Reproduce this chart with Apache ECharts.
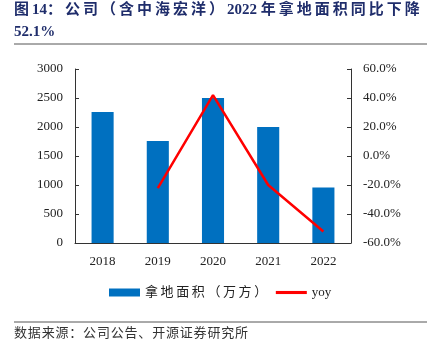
<!DOCTYPE html>
<html><head><meta charset="utf-8">
<script src="https://cdn.jsdelivr.net/npm/echarts@6/dist/echarts.min.js"></script>
<style>html,body{margin:0;padding:0;background:#fff}#c{width:427px;height:359px}</style>
</head><body><div id="c"></div>
<script>
const categories = ['2018','2019','2020','2021','2022'];
const area = [2260, 1760, 2500, 2000, 958];
const yoy = [null, -22.1, 42.0, -20.0, -52.1];
const leftTicks = [0, 500, 1000, 1500, 2000, 2500, 3000];
const rightTicks = [-60, -40, -20, 0, 20, 40, 60];

const serif = '"Liberation Serif","Times New Roman","Noto Sans CJK SC",serif';
// widen CJK text with thin spaces to imitate the reference's letter spacing
const sp = s => s.replace(/([\u3000-\u9fff\uff00-\uffef])/g, '$1\u2009');
const hp = s => s.replace(/([\u3000-\u9fff\uff00-\uffef])/g, '$1\u200A');
const chart = echarts.init(document.getElementById('c'), null, {renderer:'canvas'});
chart.setOption({
  animation:false,
  backgroundColor:'#fff',
  graphic:[
    {type:'text', left:14, top:3, style:{text:sp('图14：公司（含中海宏洋）')+'2022 '+sp('年拿地面积同比下降'), font:'bold 15px "Liberation Serif","Noto Sans CJK SC",serif', fill:'#1F2D6B'}},
    {type:'text', left:14, top:25, style:{text:'52.1%', font:'bold 15px "Liberation Serif","Noto Sans CJK SC",serif', fill:'#1F2D6B'}},
    {type:'line', shape:{x1:14,y1:44,x2:427,y2:44}, style:{stroke:'#555',lineWidth:1}},
    {type:'line', shape:{x1:14,y1:322,x2:427,y2:322}, style:{stroke:'#555',lineWidth:1}},
    {type:'text', left:14, top:326, style:{text:hp('数据来源：公司公告、开源证券研究所'), font:'13px "Noto Sans CJK SC",sans-serif', fill:'#333'}}
  ],
  grid:{left:75, right:76, top:69, bottom:116},
  legend:{
    bottom:55, left:104, itemGap:6, itemWidth:31, itemHeight:8,
    textStyle:{fontFamily:serif, fontSize:13, color:'#222'},
    data:[{name:'拿地面积（万方）', icon:'rect'}, {name:'yoy', icon:'path://M0,0 L30,0 L30,3 L0,3 Z'}],
    formatter: n => n === 'yoy' ? n : sp(n)
  },
  xAxis:{
    type:'category', data:categories,
    axisLine:{lineStyle:{color:'#333'}},
    axisTick:{inside:true, length:6, lineStyle:{color:'#333'}},
    axisLabel:{fontFamily:serif, fontSize:13, color:'#222', margin:12}
  },
  yAxis:[
    {type:'value', min:0, max:3000, interval:500,
     axisLine:{show:true, lineStyle:{color:'#333'}},
     axisTick:{show:true, inside:true, length:4, lineStyle:{color:'#333'}},
     splitLine:{show:false},
     axisLabel:{fontFamily:serif, fontSize:13, color:'#222', margin:12, formatter:v=>String(v)}},
    {type:'value', min:-60, max:60, interval:20,
     axisLine:{show:true, lineStyle:{color:'#333'}},
     axisTick:{show:true, inside:true, length:4, lineStyle:{color:'#333'}},
     splitLine:{show:false},
     axisLabel:{fontFamily:serif, fontSize:13, color:'#222', margin:12, formatter:v=>v.toFixed(1)+'%'}}
  ],
  series:[
    {name:'拿地面积（万方）', type:'bar', data:area, barWidth:'40%', itemStyle:{color:'#0070C0'}},
    {name:'yoy', type:'line', yAxisIndex:1, data:yoy, symbol:'none', lineStyle:{color:'#FF0000', width:2.5}, itemStyle:{color:'#FF0000'}}
  ]
});
</script></body></html>
